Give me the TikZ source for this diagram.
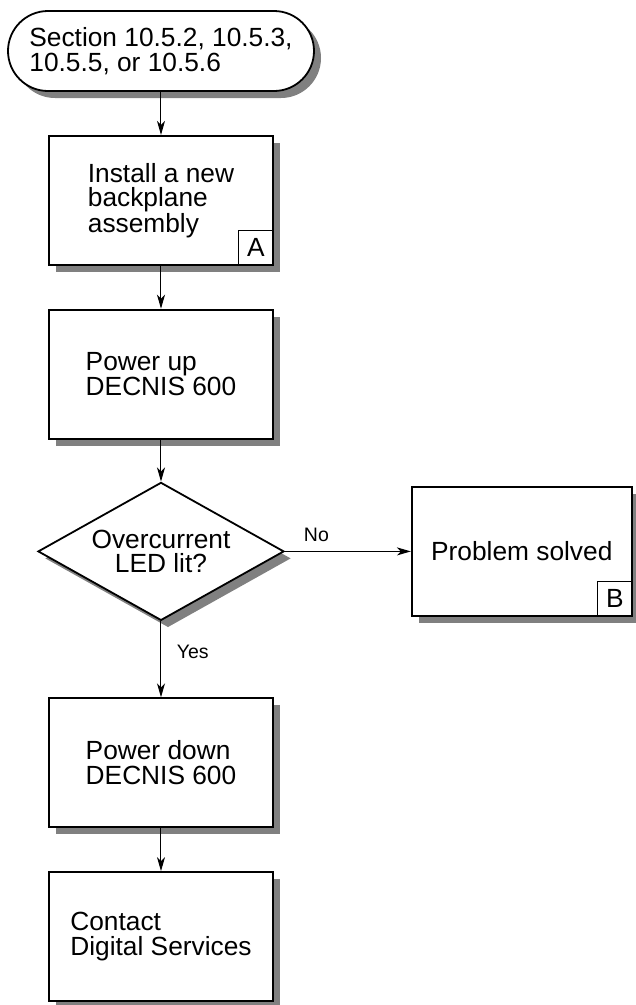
\documentclass[tikz,border=0pt]{standalone}
\usepackage{fontspec}
\setmainfont{Liberation Sans}
\usetikzlibrary{arrows.meta, shapes.geometric, positioning, shadows}

\begin{document}
\begin{tikzpicture}[
      node distance=43pt,
      shadowed/.style={drop shadow={shadow xshift=7pt, shadow yshift=-7pt, fill=black!50, opacity=1}},
      box/.style={rectangle, draw, line width=1.8pt, fill=white, shadowed, minimum width=224pt, minimum height=129pt, align=left, font=\fontsize{26.3pt}{24.5pt}\selectfont},
      term/.style={box, rounded corners=40pt, minimum width=306pt, minimum height=80pt},
      decision/.style={box, diamond, aspect=1.77, inner sep=0pt, minimum width=246pt, minimum height=138pt, align=center},
      tag/.style={rectangle, draw, line width=0.8pt, minimum size=35pt, inner sep=0pt, anchor=south east, font=\fontsize{26.3pt}{24.5pt}\selectfont},
      arrow/.style={-{Stealth[length=14pt, width=8pt, inset=4pt]}, line width=1pt},
      lbl/.style={font=\fontsize{19.5pt}{22pt}\selectfont}
    ]
      \useasboundingbox (-161pt,51pt) rectangle (475pt,-954pt);

      \node[term] (start) {Section 10.5.2, 10.5.3,\\10.5.5, or 10.5.6};
      \node[box, below=of start] (install) {Install a new\\backplane\\assembly};
      \node[tag] (tagA) at (install.south east) {A};
      \node[box, below=of install] (powerup) {Power up\\DECNIS 600};
      \node[decision, below=42pt of powerup] (overcurrent) {Overcurrent\\LED lit?};
      \node[box, right=126pt of overcurrent, minimum width=220pt] (solved) {Problem solved};
      \node[tag] (tagB) at (solved.south east) {B};
      \node[box, below=76pt of overcurrent] (powerdown) {Power down\\DECNIS 600};
      \node[box, below=of powerdown] (contact) {Contact\\Digital Services};

      \draw[arrow] (start) -- (install);
      \draw[arrow] (install) -- (powerup);
      \draw[arrow] (powerup) -- (overcurrent);
      \draw[arrow] (overcurrent) -- node[lbl, pos=0.25, above=6pt] {No} (solved);
      \draw[arrow] (overcurrent) -- node[lbl, pos=0.4, right=12pt] {Yes} (powerdown);
      \draw[arrow] (powerdown) -- (contact);
    \end{tikzpicture}
\end{document}
